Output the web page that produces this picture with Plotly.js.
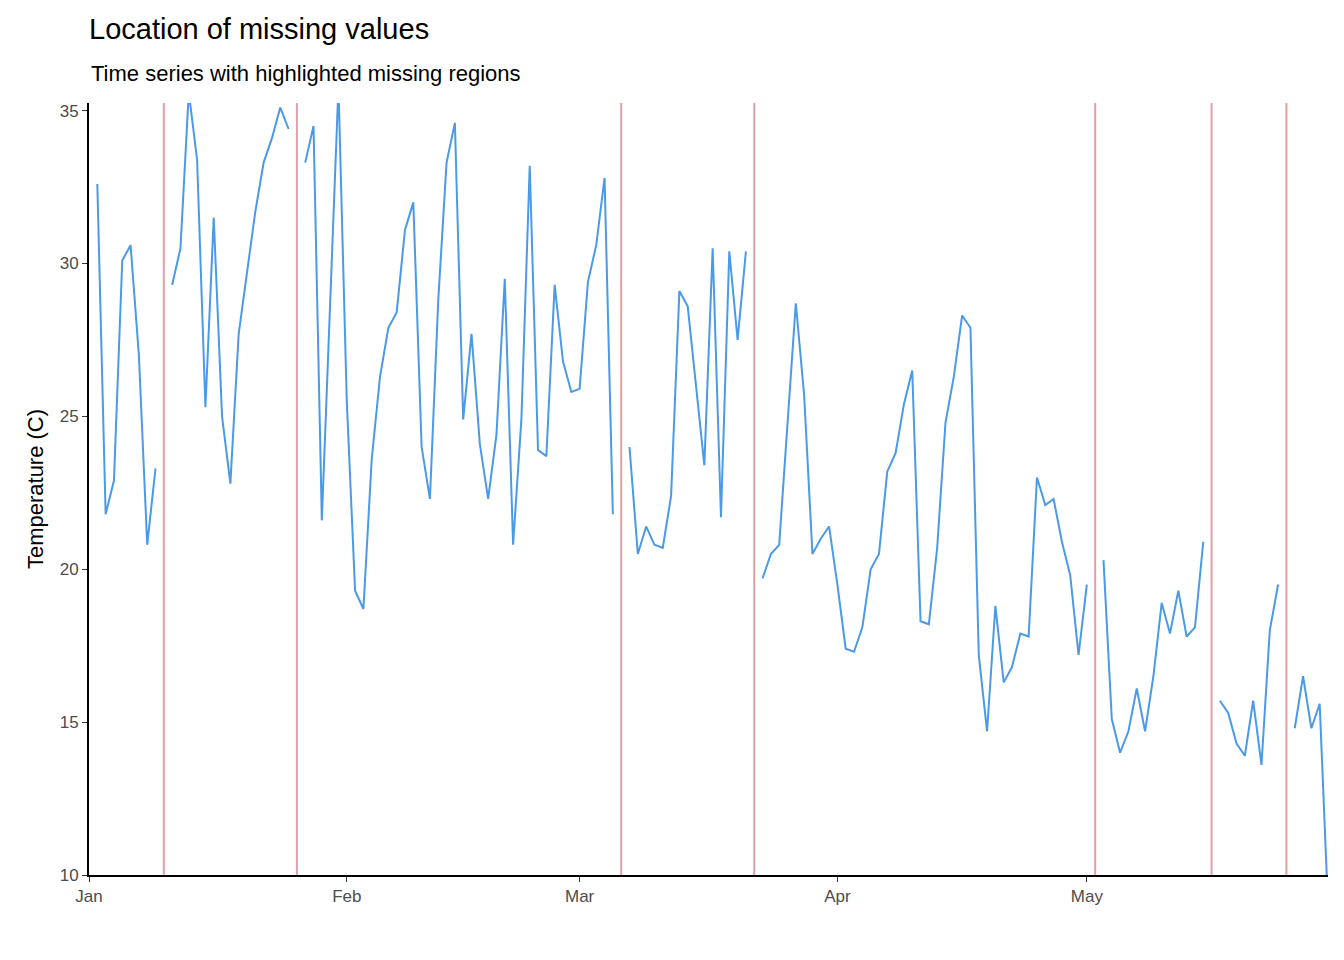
<!DOCTYPE html>
<html><head><meta charset="utf-8">
<script src="https://cdn.plot.ly/plotly-3.0.1.min.js"></script>
<style>body{margin:0;background:#fff}#c{width:1344px;height:960px}</style>
</head><body><div id="c"></div>
<script>
const startDate = '2023-01-01';
// daily temperatures from Jan 1; null = missing
const temps = [
 null,32.6,21.8,22.9,30.1,30.6,27.0,20.8,23.3,null,
 29.3,30.5,35.6,33.4,25.3,31.5,25.0,22.8,27.7,29.7,31.7,33.3,34.1,35.1,34.4,null,
 33.3,34.5,21.6,28.5,35.8,25.5,19.3,18.7,23.6,26.3,27.9,28.4,31.1,32.0,24.0,22.3,28.8,33.3,34.6,24.9,27.7,24.1,22.3,24.4,29.5,20.8,24.9,33.2,23.9,23.7,29.3,26.8,25.8,25.9,29.4,30.6,32.8,21.8,null,
 24.0,20.5,21.4,20.8,20.7,22.4,29.1,28.6,26.0,23.4,30.5,21.7,30.4,27.5,30.4,null,
 19.7,20.5,20.8,24.9,28.7,25.7,20.5,21.0,21.4,19.5,17.4,17.3,18.1,20.0,20.5,23.2,23.8,25.4,26.5,18.3,18.2,20.7,24.8,26.3,28.3,27.9,17.2,14.7,18.8,16.3,16.8,17.9,17.8,23.0,22.1,22.3,20.9,19.8,17.2,19.5,null,
 20.3,15.1,14.0,14.7,16.1,14.7,16.5,18.9,17.9,19.3,17.8,18.1,20.9,null,
 15.7,15.3,14.3,13.9,15.7,13.6,18.0,19.5,null,
 14.8,16.5,14.8,15.6,9.0
];
const missingMarks = [9,25,64,80,121,135,144];

function dayToDate(d){const t=new Date(startDate+'T00:00:00Z');t.setUTCDate(t.getUTCDate()+d);return t.toISOString().slice(0,10);}
const dates = temps.map((_,i)=>dayToDate(i));
const shapes = missingMarks.map(i=>({type:'line',xref:'x',yref:'paper',x0:dates[i],x1:dates[i],y0:0,y1:1,line:{color:'rgba(215,120,125,0.7)',width:2}}));

Plotly.newPlot('c',[{x:dates,y:temps,type:'scatter',mode:'lines',line:{color:'#4a9ae8',width:2},connectgaps:false}],{
 width:1344,height:960,paper_bgcolor:'#fff',plot_bgcolor:'#fff',
 margin:{l:89,r:16,t:103,b:85},
 font:{family:'Liberation Sans, Arial, sans-serif',color:'#000'},
 title:{text:'Location of missing values',x:89/1344,xanchor:'left',y:1-29/960,yanchor:'middle',font:{size:29}},
 annotations:[{text:'Time series with highlighted missing regions',xref:'paper',yref:'paper',x:0,y:1+30/772,xanchor:'left',yanchor:'middle',showarrow:false,font:{size:22}}],
 shapes:shapes,
 showlegend:false,
 xaxis:{type:'date',range:[dates[0],dates[dates.length-1]],tickformat:'%b',dtick:'M1',tick0:'2023-01-01',showgrid:false,zeroline:false,showline:true,linecolor:'#000',linewidth:2,ticks:'outside',ticklen:5,tickcolor:'#333',tickfont:{size:17,color:'#4d4d4d'}},
 yaxis:{range:[10,35.25],tickvals:[10,15,20,25,30,35],showgrid:false,zeroline:false,showline:true,linecolor:'#000',linewidth:2,ticks:'outside',ticklen:5,tickcolor:'#333',tickfont:{size:17,color:'#4d4d4d'},title:{text:'Temperature (C)',font:{size:22},standoff:10}}
},{displayModeBar:false});
</script></body></html>
